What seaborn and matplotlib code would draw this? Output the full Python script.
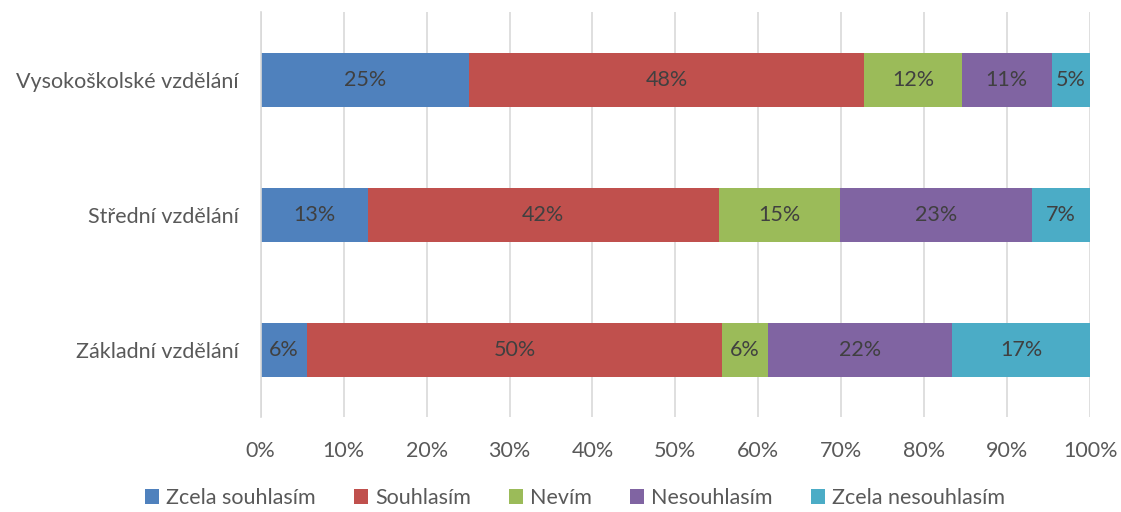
import numpy as np
import pandas as pd
import matplotlib
matplotlib.use("Agg")
import matplotlib.pyplot as plt
from matplotlib.patches import Patch
import seaborn as sns

# Survey answers by education level (percent of respondents)
education = ["Vysokoškolské vzdělání", "Střední vzdělání", "Základní vzdělání"]
answers = ["Zcela souhlasím", "Souhlasím", "Nevím", "Nesouhlasím", "Zcela nesouhlasím"]
zcela_souhlasim = [25.1, 12.9, 5.6]
souhlasim = [47.7, 42.3, 50.0]
nevim = [11.7, 14.6, 5.6]
nesouhlasim = [10.9, 23.2, 22.2]
zcela_nesouhlasim = [4.6, 7.0, 16.6]
colors = ["#4F81BD", "#C0504D", "#9BBB59", "#8064A2", "#4BACC6"]
xticks = [0, 10, 20, 30, 40, 50, 60, 70, 80, 90, 100]

sns.set_theme(style="white")
plt.rcParams["font.family"] = ["Lato", "DejaVu Sans"]
text_grey = "#595959"
fs = 15.5

values = np.array([zcela_souhlasim, souhlasim, nevim, nesouhlasim, zcela_nesouhlasim])
cum = values.cumsum(axis=0)
df = pd.DataFrame({"education": education})
for j, name in enumerate(answers):
    df[name] = values[j]
    df[name + "_end"] = cum[j]

fig = plt.figure(figsize=(11.21, 5.12), dpi=100)
ax = fig.add_axes([0.2326, 0.1846, 0.7398, 0.791])

# Stack by overlaying cumulative bars, widest first
for j in reversed(range(len(answers))):
    sns.barplot(data=df, x=answers[j] + "_end", y="education", orient="h",
                color=colors[j], saturation=1, width=0.4, ax=ax, zorder=2,
                linewidth=0)

# Segment labels
for j, name in enumerate(answers):
    for i in range(len(education)):
        v = values[j, i]
        ax.text(cum[j, i] - v / 2, i, f"{round(v):d}%", ha="center", va="center",
                fontsize=fs, color="#404040", zorder=3)

ax.set_xlim(0, 100)
ax.set_ylim(2.5, -0.5)
ax.set_xticks(xticks)
ax.set_xticklabels([f"{t}%" for t in xticks])
ax.set_xlabel("")
ax.set_ylabel("")
ax.grid(axis="x", color="#D9D9D9", linewidth=1.2, zorder=0)
ax.grid(axis="y", visible=False)
ax.set_axisbelow(True)
for side in ["top", "right", "bottom"]:
    ax.spines[side].set_visible(False)
ax.spines["left"].set_color("#D9D9D9")
ax.spines["left"].set_linewidth(1.2)
ax.tick_params(axis="both", length=0, labelsize=fs, colors=text_grey)
ax.tick_params(axis="x", pad=17)
ax.tick_params(axis="y", pad=16)

handles = [Patch(facecolor=c, edgecolor="none") for c in colors]
fig.legend(handles, answers, loc="center", bbox_to_anchor=(0.513, 0.027),
           ncol=5, frameon=False, fontsize=fs, labelcolor=text_grey,
           handlelength=0.65, handleheight=0.65, handletextpad=0.35,
           columnspacing=1.75)

fig.savefig("out.png", dpi=100, facecolor="white")
